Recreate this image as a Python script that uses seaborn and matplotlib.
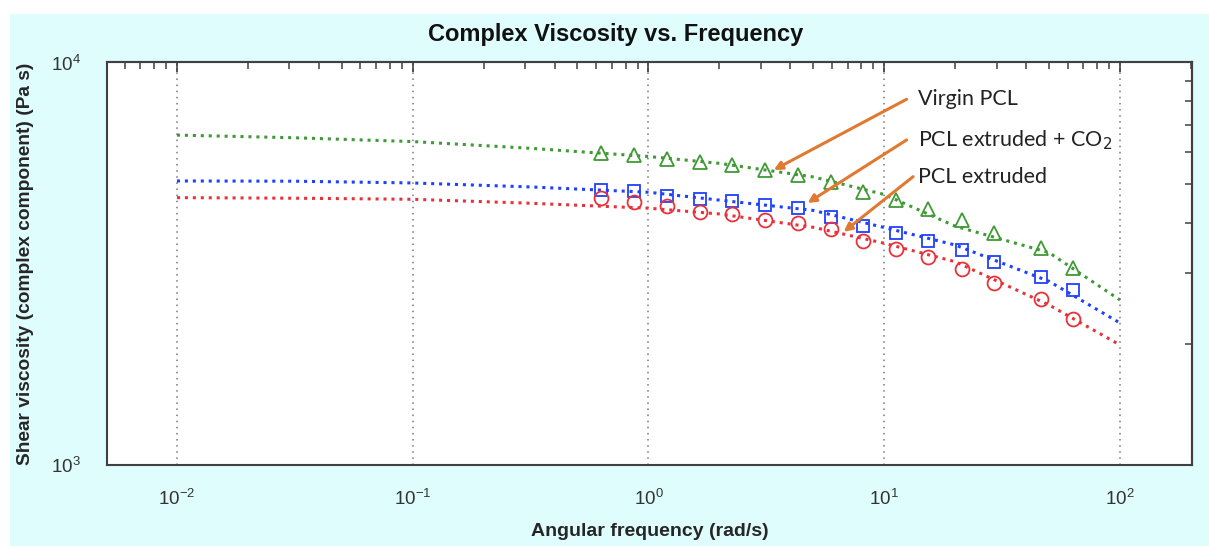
import numpy as np
import pandas as pd
import matplotlib
matplotlib.use('Agg')
import matplotlib.pyplot as plt
from matplotlib.patches import Rectangle
from matplotlib.ticker import LogLocator, NullFormatter
import seaborn as sns

# measured points (rad/s)
freq_meas = [0.631, 0.869, 1.197, 1.648, 2.27, 3.125, 4.30, 5.92, 8.16, 11.2, 15.4, 21.3, 29.3, 46.4, 63.1]
virgin_meas = [5970, 5890, 5757, 5670, 5564, 5407, 5254, 5057, 4775, 4552, 4325, 4061, 3771, 3460, 3092]
co2_meas = [4824, 4796, 4660, 4582, 4529, 4426, 4350, 4131, 3925, 3771, 3602, 3422, 3194, 2932, 2721]
extr_meas = [4607, 4502, 4400, 4252, 4203, 4062, 3993, 3858, 3602, 3441, 3287, 3069, 2832, 2584, 2305]

# model curves
freq_fit = [0.01, 0.0316, 0.1, 0.316, 1, 2, 5, 10, 20, 50, 100]
virgin_fit = [6600, 6500, 6360, 6120, 5840, 5615, 5195, 4700, 3920, 3370, 2570]
co2_fit = [5077, 5070, 5019, 4906, 4760, 4550, 4290, 3890, 3520, 2860, 2253]
extr_fit = [4615, 4600, 4572, 4469, 4345, 4203, 3895, 3555, 3199, 2498, 1987]

labels = ['Virgin PCL', 'PCL extruded + CO$_2$', 'PCL extruded']

sns.set_style('white')
plt.rcParams['font.family'] = ['Liberation Sans', 'DejaVu Sans']
plt.rcParams['axes.unicode_minus'] = False

green = '#3f9a35'
blue = '#2040ff'
red = '#e8323a'
orange = '#e07a30'
edge = '#404040'

fig = plt.figure(figsize=(12.09, 5.46), dpi=100)
fig.patch.set_facecolor('white')
fig.patches.append(Rectangle((10 / 1209, 0), 1, 1 - 14 / 546, transform=fig.transFigure,
                             facecolor='#e0fdfd', edgecolor='none', zorder=-10))
ax = fig.add_axes([0.0885, 0.1484, 0.8974, 0.7372])
ax.set_facecolor('white')

fit_df = pd.DataFrame({'freq': freq_fit, 'virgin': virgin_fit, 'co2': co2_fit, 'extr': extr_fit})
meas_df = pd.DataFrame({'freq': freq_meas, 'virgin': virgin_meas, 'co2': co2_meas, 'extr': extr_meas})

for col, c, m, ms in [('virgin', green, '^', 10), ('co2', blue, 's', 9), ('extr', red, 'o', 10)]:
    sns.lineplot(data=fit_df, x='freq', y=col, ax=ax, color=c, linestyle=(0, (1, 1.6)),
                 linewidth=2.2, errorbar=None)
    sns.lineplot(data=meas_df, x='freq', y=col, ax=ax, linestyle='none', marker=m,
                 markersize=ms, markerfacecolor='none', markeredgecolor=c,
                 markeredgewidth=1.3, errorbar=None)

ax.set_xscale('log')
ax.set_yscale('log')
ax.set_xlim(0.00505, 202)
ax.set_ylim(1000, 10000)


def set_locators(axis):
    axis.set_major_locator(LogLocator(base=10, numticks=10))
    axis.set_minor_locator(LogLocator(base=10, subs=np.arange(2, 10), numticks=20))
    axis.set_minor_formatter(NullFormatter())


set_locators(ax.xaxis)
set_locators(ax.yaxis)

ax.grid(True, axis='x', which='major', linestyle=(0, (1, 3)), color='#777777', linewidth=1.1)
ax.grid(False, axis='y')

for s in ax.spines.values():
    s.set_color(edge)
    s.set_linewidth(1.5)

ax.tick_params(axis='both', which='major', direction='inout', length=10, width=1.3,
               color=edge, labelsize=13.5, labelcolor='#333333')
ax.tick_params(axis='both', which='minor', direction='inout', length=6, width=1.1, color=edge)
ax.tick_params(axis='x', which='major', pad=12)
ax.tick_params(axis='y', which='major', pad=14)
ax.tick_params(top=False, right=False, which='both')

# inward ticks on the top and right frame
secx = ax.secondary_xaxis('top')
set_locators(secx.xaxis)
secx.tick_params(which='major', direction='in', length=7, width=1.3, color=edge, labeltop=False)
secx.tick_params(which='minor', direction='in', length=5, width=1.1, color=edge)
secx.spines['top'].set_color(edge)
secx.spines['top'].set_linewidth(1.5)
secy = ax.secondary_yaxis('right')
set_locators(secy.yaxis)
secy.tick_params(which='major', direction='in', length=7, width=1.3, color=edge, labelright=False)
secy.tick_params(which='minor', direction='in', length=5, width=1.1, color=edge)
secy.spines['right'].set_color(edge)
secy.spines['right'].set_linewidth(1.5)

ax.set_xlabel('Angular frequency (rad/s)', fontsize=14, fontweight='bold', labelpad=10)
ax.set_ylabel('Shear viscosity (complex component) (Pa s)', fontsize=13.8, fontweight='bold', labelpad=12)
fig.text(0.509, 0.937, 'Complex Viscosity vs. Frequency', ha='center', va='center',
         fontsize=17, fontweight='bold', color='#111111')

# annotations with arrows
tips = [(3.40, 5407), (4.73, 4477), (6.73, 3794)]
starts = [(0.737, 0.9086), (0.737, 0.8075), (0.743, 0.7163)]
text_y = [0.9086, 0.8075, 0.7163]
for lab, tip, st, ty in zip(labels, tips, starts, text_y):
    ax.annotate('', xy=tip, xycoords='data', xytext=st, textcoords='axes fraction',
                arrowprops=dict(arrowstyle='-|>', color=orange, lw=2.2, mutation_scale=12,
                                shrinkA=0, shrinkB=0))
    ax.text(0.7475, ty, lab, transform=ax.transAxes, ha='left', va='center',
            fontsize=15.5, color='#222222', family=['Lato', 'DejaVu Sans'])

fig.savefig('out.png', dpi=100, facecolor=fig.get_facecolor())
